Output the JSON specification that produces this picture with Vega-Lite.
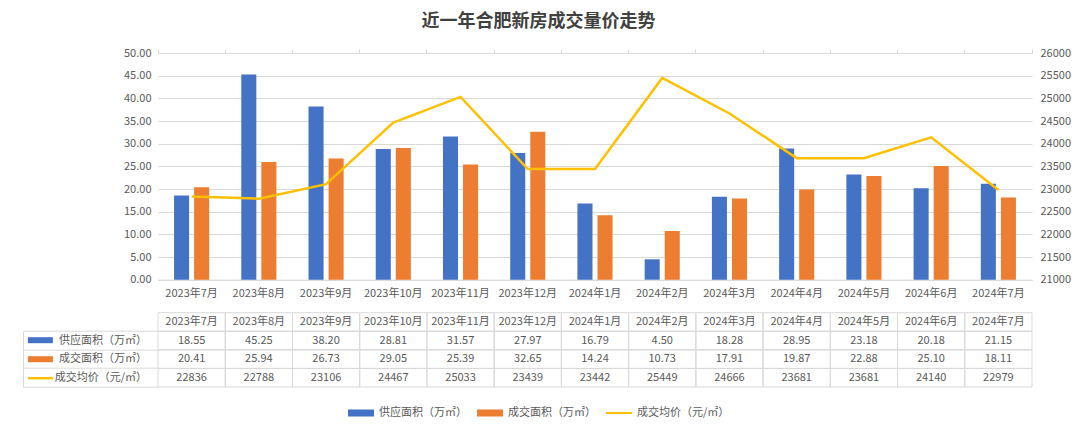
{
  "$schema": "https://vega.github.io/schema/vega-lite/v6.json",
  "padding": {"left": 22, "top": 13, "right": 4, "bottom": 4},
  "background": "white",
  "title": {"text": "近一年合肥新房成交量价走势", "fontSize": 18, "fontWeight": "bold", "color": "#404040", "font": "Noto Sans CJK SC", "anchor": "middle", "offset": 16, "dx": -8},
  "config": {"font": "Noto Sans CJK SC", "view": {"stroke": null}, "axis": {"labelFont": "Noto Sans CJK SC", "labelColor": "#595959", "labelFontSize": 11}},
  "datasets": {
    "d": [
      {"month": "2023年7月", "series": "供应面积（万㎡）", "value": 18.55},
      {"month": "2023年8月", "series": "供应面积（万㎡）", "value": 45.25},
      {"month": "2023年9月", "series": "供应面积（万㎡）", "value": 38.20},
      {"month": "2023年10月", "series": "供应面积（万㎡）", "value": 28.81},
      {"month": "2023年11月", "series": "供应面积（万㎡）", "value": 31.57},
      {"month": "2023年12月", "series": "供应面积（万㎡）", "value": 27.97},
      {"month": "2024年1月", "series": "供应面积（万㎡）", "value": 16.79},
      {"month": "2024年2月", "series": "供应面积（万㎡）", "value": 4.50},
      {"month": "2024年3月", "series": "供应面积（万㎡）", "value": 18.28},
      {"month": "2024年4月", "series": "供应面积（万㎡）", "value": 28.95},
      {"month": "2024年5月", "series": "供应面积（万㎡）", "value": 23.18},
      {"month": "2024年6月", "series": "供应面积（万㎡）", "value": 20.18},
      {"month": "2024年7月", "series": "供应面积（万㎡）", "value": 21.15},
      {"month": "2023年7月", "series": "成交面积（万㎡）", "value": 20.41},
      {"month": "2023年8月", "series": "成交面积（万㎡）", "value": 25.94},
      {"month": "2023年9月", "series": "成交面积（万㎡）", "value": 26.73},
      {"month": "2023年10月", "series": "成交面积（万㎡）", "value": 29.05},
      {"month": "2023年11月", "series": "成交面积（万㎡）", "value": 25.39},
      {"month": "2023年12月", "series": "成交面积（万㎡）", "value": 32.65},
      {"month": "2024年1月", "series": "成交面积（万㎡）", "value": 14.24},
      {"month": "2024年2月", "series": "成交面积（万㎡）", "value": 10.73},
      {"month": "2024年3月", "series": "成交面积（万㎡）", "value": 17.91},
      {"month": "2024年4月", "series": "成交面积（万㎡）", "value": 19.87},
      {"month": "2024年5月", "series": "成交面积（万㎡）", "value": 22.88},
      {"month": "2024年6月", "series": "成交面积（万㎡）", "value": 25.10},
      {"month": "2024年7月", "series": "成交面积（万㎡）", "value": 18.11},
      {"month": "2023年7月", "series": "成交均价（元/㎡）", "value": 22836},
      {"month": "2023年8月", "series": "成交均价（元/㎡）", "value": 22788},
      {"month": "2023年9月", "series": "成交均价（元/㎡）", "value": 23106},
      {"month": "2023年10月", "series": "成交均价（元/㎡）", "value": 24467},
      {"month": "2023年11月", "series": "成交均价（元/㎡）", "value": 25033},
      {"month": "2023年12月", "series": "成交均价（元/㎡）", "value": 23439},
      {"month": "2024年1月", "series": "成交均价（元/㎡）", "value": 23442},
      {"month": "2024年2月", "series": "成交均价（元/㎡）", "value": 25449},
      {"month": "2024年3月", "series": "成交均价（元/㎡）", "value": 24666},
      {"month": "2024年4月", "series": "成交均价（元/㎡）", "value": 23681},
      {"month": "2024年5月", "series": "成交均价（元/㎡）", "value": 23681},
      {"month": "2024年6月", "series": "成交均价（元/㎡）", "value": 24140},
      {"month": "2024年7月", "series": "成交均价（元/㎡）", "value": 22979}
    ]
  },
  "data": {"name": "d"},
  "bounds": "flush",
  "spacing": 32.7,
  "resolve": {"scale": {"color": "shared"}, "legend": {"color": "shared"}},
  "vconcat": [
    {
      "width": 874,
      "height": 226.7,
      "layer": [
        {
          "transform": [{"filter": "datum.series !== '成交均价（元/㎡）'"}],
          "mark": {"type": "bar"},
          "encoding": {
            "x": {"field": "month", "type": "nominal",
              "scale": {"domain": ["2023年7月","2023年8月","2023年9月","2023年10月","2023年11月","2023年12月","2024年1月","2024年2月","2024年3月","2024年4月","2024年5月","2024年6月","2024年7月"], "paddingInner": 0, "paddingOuter": 0},
              "axis": {"title": null, "ticks": false, "domainColor": "#d9d9d9", "labelPadding": 8, "labelAngle": 0}},
            "xOffset": {"field": "series", "type": "nominal", "scale": {"domain": ["供应面积（万㎡）", "成交面积（万㎡）"], "paddingInner": 0.25, "paddingOuter": 0.8}},
            "y": {"field": "value", "type": "quantitative", "scale": {"domain": [0, 50], "nice": false},
              "axis": {"title": null, "values": [0, 5, 10, 15, 20, 25, 30, 35, 40, 45, 50], "format": ".2f", "domain": false, "ticks": false, "gridColor": "#d9d9d9", "labelPadding": 7}},
            "color": {"field": "series", "type": "nominal",
              "scale": {"domain": ["供应面积（万㎡）", "成交面积（万㎡）", "成交均价（元/㎡）"], "range": ["#4472c4", "#ed7d31", "#ffc000"]},
              "legend": {"title": null, "orient": "none", "direction": "horizontal", "legendX": 190, "legendY": 347,
                "symbolSize": 676, "symbolType": "M-1,-0.27H1V0.27H-1Z", "labelFontSize": 11, "labelColor": "#595959", "labelFont": "Noto Sans CJK SC", "labelOffset": 5, "columnPadding": 10,
                "encode": {"symbols": {"update": {
                  "shape": {"signal": "datum.value === '成交均价（元/㎡）' ? 'M-1,-0.08H1V0.08H-1Z' : 'M-1,-0.27H1V0.27H-1Z'"},
                  "fill": {"scale": "color", "field": "value"},
                  "stroke": {"value": "transparent"},
                  "strokeWidth": {"value": 0},
                  "opacity": {"value": 1}}}}}}
          }
        },
        {
          "transform": [{"filter": "datum.series === '成交均价（元/㎡）'"}],
          "mark": {"type": "line", "strokeWidth": 2.5},
          "encoding": {
            "x": {"field": "month", "type": "nominal",
              "scale": {"domain": ["2023年7月","2023年8月","2023年9月","2023年10月","2023年11月","2023年12月","2024年1月","2024年2月","2024年3月","2024年4月","2024年5月","2024年6月","2024年7月"]},
              "axis": {"title": null, "labels": false, "domain": false, "ticks": true, "tickSize": 4, "tickColor": "#d9d9d9", "bandPosition": 1, "tickExtra": true}},
            "y": {"field": "value", "type": "quantitative", "scale": {"domain": [21000, 26000], "nice": false},
              "axis": {"orient": "right", "title": null, "format": "d", "values": [21000, 21500, 22000, 22500, 23000, 23500, 24000, 24500, 25000, 25500, 26000], "grid": false, "domain": false, "ticks": false, "labelPadding": 8}},
            "color": {"datum": "成交均价（元/㎡）"}
          }
        }
      ],
      "resolve": {"scale": {"y": "independent"}, "axis": {"x": "independent", "y": "independent"}}
    },
    {
      "width": 874,
      "height": 74.3,
      "layer": [
        {
          "mark": {"type": "rect", "fill": "transparent", "stroke": "#d9d9d9", "strokeWidth": 1},
          "encoding": {
            "x": {"field": "month", "type": "nominal", "scale": {"domain": ["2023年7月","2023年8月","2023年9月","2023年10月","2023年11月","2023年12月","2024年1月","2024年2月","2024年3月","2024年4月","2024年5月","2024年6月","2024年7月"], "paddingInner": 0, "paddingOuter": 0}, "axis": null},
            "y": {"field": "series", "type": "nominal", "scale": {"domain": ["月份", "供应面积（万㎡）", "成交面积（万㎡）", "成交均价（元/㎡）"], "paddingInner": 0, "paddingOuter": 0},
              "axis": {"orient": "left", "title": null, "ticks": false, "domain": false, "labelPadding": 11.5, "labelExpr": "datum.value === '月份' ? '' : datum.value"}}
          }
        },
        {
          "transform": [{"filter": "datum.series === '供应面积（万㎡）'"}],
          "mark": {"type": "rect", "fill": "transparent", "stroke": "#d9d9d9", "strokeWidth": 1},
          "encoding": {
            "x": {"field": "month", "type": "nominal", "axis": null},
            "y": {"datum": "月份", "type": "nominal",
              "axis": {"orient": "left", "title": null, "labels": false, "domain": false, "ticks": true, "tickSize": 135, "bandPosition": 1, "tickExtra": true,
                "tickColor": {"condition": {"test": "datum.extra", "value": "transparent"}, "value": "#d9d9d9"}}}
          }
        },
        {
          "transform": [{"filter": "datum.series === '供应面积（万㎡）'"}],
          "mark": {"type": "text", "fontSize": 11, "color": "#595959", "font": "Noto Sans CJK SC"},
          "encoding": {
            "x": {"field": "month", "type": "nominal", "axis": null},
            "y": {"datum": "月份", "type": "nominal", "axis": null},
            "text": {"field": "month"}
          }
        },
        {
          "transform": [{"filter": "datum.series !== '成交均价（元/㎡）'"}],
          "mark": {"type": "text", "fontSize": 11, "color": "#595959", "font": "Noto Sans CJK SC"},
          "encoding": {
            "x": {"field": "month", "type": "nominal", "axis": null},
            "y": {"field": "series", "type": "nominal",
              "axis": {"orient": "left", "title": null, "labels": false, "domain": false, "ticks": true, "offset": 105.6, "tickSize": 25,
                "tickColor": {"condition": [
                  {"test": "datum.value === '供应面积（万㎡）'", "value": "#4472c4"},
                  {"test": "datum.value === '成交面积（万㎡）'", "value": "#ed7d31"},
                  {"test": "datum.value === '成交均价（元/㎡）'", "value": "#ffc000"}], "value": "transparent"},
                "tickWidth": {"condition": {"test": "datum.value === '成交均价（元/㎡）'", "value": 2.5}, "value": 6}}},
            "text": {"field": "value", "format": ".2f"}
          }
        },
        {
          "transform": [{"filter": "datum.series === '成交均价（元/㎡）'"}],
          "mark": {"type": "text", "fontSize": 11, "color": "#595959", "font": "Noto Sans CJK SC"},
          "encoding": {
            "x": {"field": "month", "type": "nominal", "axis": null},
            "y": {"field": "series", "type": "nominal",
              "axis": {"orient": "left", "title": null, "labels": false, "ticks": false, "domain": true, "domainColor": "#d9d9d9", "domainDash": [0, 18.6, 60, 0], "offset": 135}},
            "text": {"field": "value", "format": "d"}
          }
        }
      ],
      "resolve": {"axis": {"y": "independent"}}
    }
  ]
}
